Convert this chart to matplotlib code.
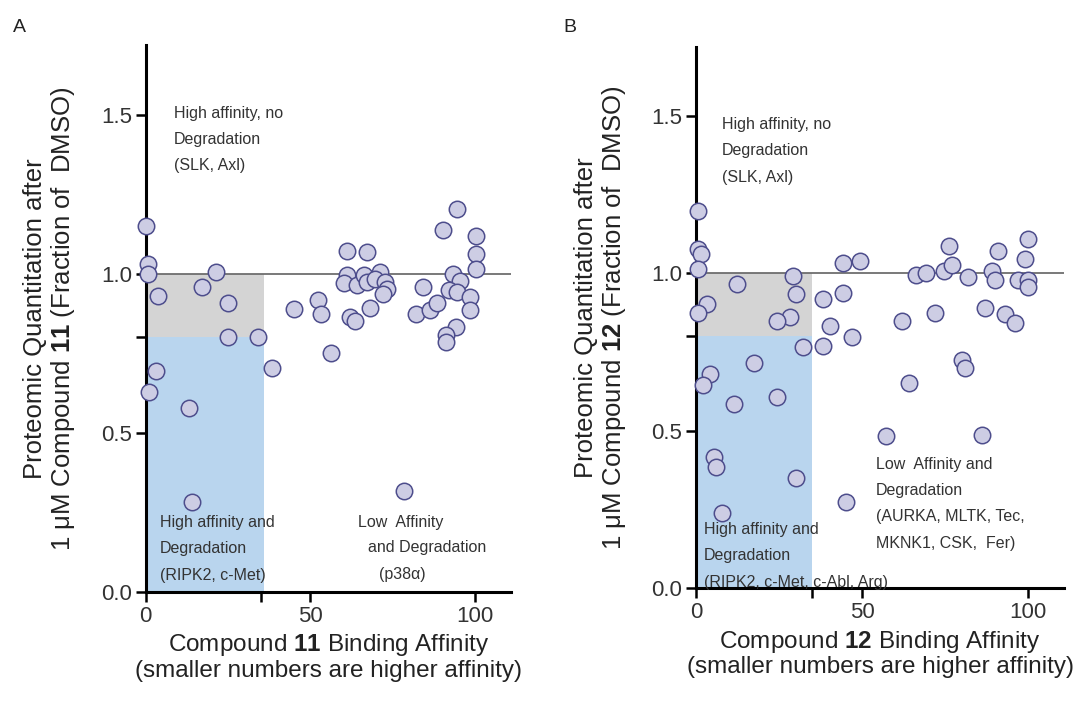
import matplotlib
matplotlib.use('Agg')
import matplotlib.pyplot as plt
from matplotlib.patches import Rectangle

plt.rcParams['font.family'] = ['Liberation Sans', 'DejaVu Sans']
plt.rcParams['mathtext.fontset'] = 'custom'
plt.rcParams['mathtext.rm'] = 'Liberation Sans'
plt.rcParams['mathtext.bf'] = 'Liberation Sans:bold'

# panel A: compound 11
affinity_11 = [0.2, 0.7, 0.7, 3.7, 21.3, 17.1, 25.0, 25.0, 34.1, 38.2, 3.0, 0.9, 13.1,
               45.1, 52.2, 53.2, 56.1, 61.2, 67.2, 61.2, 60.2, 64.2, 66.3, 67.3, 71.1,
               69.6, 72.6, 73.2, 72.1, 62.0, 63.5, 68.1, 84.3, 82.1, 86.3, 88.4, 90.2,
               94.4, 100.3, 100.3, 100.3, 93.2, 95.4, 92.2, 94.4, 98.3, 98.3, 94.2, 91.2,
               91.2, 78.3, 13.9]
quant_11 = [1.15, 1.03, 1.00, 0.93, 1.005, 0.958, 0.909, 0.80, 0.80, 0.703, 0.695, 0.627,
            0.578, 0.889, 0.917, 0.873, 0.752, 1.071, 1.070, 0.998, 0.971, 0.966, 0.997,
            0.974, 1.007, 0.984, 0.974, 0.951, 0.937, 0.865, 0.851, 0.894, 0.958, 0.873,
            0.886, 0.909, 1.138, 1.203, 1.12, 1.063, 1.014, 1.00, 0.979, 0.95, 0.943,
            0.927, 0.886, 0.833, 0.809, 0.787, 0.317, 0.283]

# panel B: compound 12
affinity_12 = [0.5, 0.5, 1.5, 0.5, 12.4, 3.2, 0.5, 29.2, 30.2, 28.2, 24.4, 38.3, 40.3,
               44.3, 44.3, 49.3, 47.1, 38.3, 32.2, 17.4, 4.0, 2.0, 11.4, 24.4, 62.2, 64.1,
               57.2, 86.1, 80.1, 81.1, 72.0, 66.2, 69.2, 74.8, 76.3, 77.2, 82.1, 87.1,
               93.1, 96.2, 89.1, 90.1, 91.1, 97.2, 100.2, 99.2, 100.2, 100.2, 5.2, 6.0,
               30.2, 45.3, 7.9]
quant_12 = [1.197, 1.078, 1.062, 1.015, 0.965, 0.902, 0.874, 0.990, 0.933, 0.861, 0.848,
            0.918, 0.832, 0.936, 1.033, 1.038, 0.798, 0.768, 0.766, 0.716, 0.679, 0.645,
            0.585, 0.608, 0.848, 0.653, 0.483, 0.486, 0.724, 0.700, 0.874, 0.996, 1.002,
            1.007, 1.086, 1.025, 0.988, 0.890, 0.872, 0.842, 1.007, 0.978, 1.070, 0.978,
            1.110, 1.044, 0.978, 0.955, 0.415, 0.384, 0.351, 0.275, 0.238]

grey_c = '#d4d4d4'
blue_c = '#b9d5ee'
face_c = '#cdcde4'
edge_c = '#4d4d8c'
txt_c = '#333333'

fig = plt.figure(figsize=(10.88, 7.06), dpi=100)
axA = fig.add_axes([0.134, 0.162, 0.336, 0.774])
axB = fig.add_axes([0.640, 0.167, 0.338, 0.767])


def style(ax, xs, ys, cmpd, box_w):
    ax.add_patch(Rectangle((0, 0.8), box_w, 0.2, color=grey_c, lw=0, zorder=0))
    ax.add_patch(Rectangle((0, 0), box_w, 0.8, color=blue_c, lw=0, zorder=0))
    ax.axhline(1.0, color='#6e6e6e', lw=1.3, zorder=1)
    ax.scatter(xs, ys, s=140, facecolor=face_c, edgecolor=edge_c, linewidth=1.1,
               zorder=3, clip_on=False)
    ax.set_xlim(0, 111)
    ax.set_ylim(0, 1.72)
    ax.set_xticks([0, 35, 50, 100])
    ax.set_xticklabels(['0', '', '50', '100'])
    ax.set_yticks([0, 0.5, 0.8, 1.0, 1.5])
    ax.set_yticklabels(['0.0', '0.5', '', '1.0', '1.5'])
    for s in ['top', 'right']:
        ax.spines[s].set_visible(False)
    for s in ['left', 'bottom']:
        ax.spines[s].set_linewidth(2.2)
    ax.tick_params(length=7, width=1.8, labelsize=16, pad=3, colors='black')
    ax.tick_params(axis='both', labelcolor='#333333')
    ax.set_xlabel('Compound $\\mathbf{' + cmpd + '}$ Binding Affinity\n'
                  '(smaller numbers are higher affinity)', fontsize=17.5,
                  color='#222222', labelpad=4, linespacing=1.1)
    ax.set_ylabel('Proteomic Quantitation after\n1 \u03bcM Compound $\\mathbf{' + cmpd +
                  '}$ (Fraction of  DMSO)', fontsize=18.5, color='#222222',
                  labelpad=17, linespacing=1.1)


style(axA, affinity_11, quant_11, '11', 36)
style(axB, affinity_12, quant_12, '12', 35)

tk = dict(fontsize=11.5, color=txt_c, linespacing=1.95, va='top', ha='left')
axA.text(8.5, 1.53, 'High affinity, no\nDegradation\n(SLK, Axl)', **tk)
axA.text(4.2, 0.241, 'High affinity and\nDegradation\n(RIPK2, c-Met)', **tk)
axA.text(64.5, 0.241, 'Low  Affinity', **tk)
axA.text(67.5, 0.161, 'and Degradation', **tk)
axA.text(70.8, 0.079, '(p38\u03b1)', **tk)

axB.text(7.8, 1.497, 'High affinity, no\nDegradation\n(SLK, Axl)', **tk)
axB.text(2.3, 0.21, 'High affinity and\nDegradation\n(RIPK2, c-Met, c-Abl, Arg)', **tk)
axB.text(54.2, 0.418, 'Low  Affinity and\nDegradation\n(AURKA, MLTK, Tec,\nMKNK1, CSK,  Fer)', **tk)

fig.text(0.012, 0.955, 'A', fontsize=14, color='#222222')
fig.text(0.518, 0.955, 'B', fontsize=14, color='#222222')

fig.savefig('out.png', dpi=100)
